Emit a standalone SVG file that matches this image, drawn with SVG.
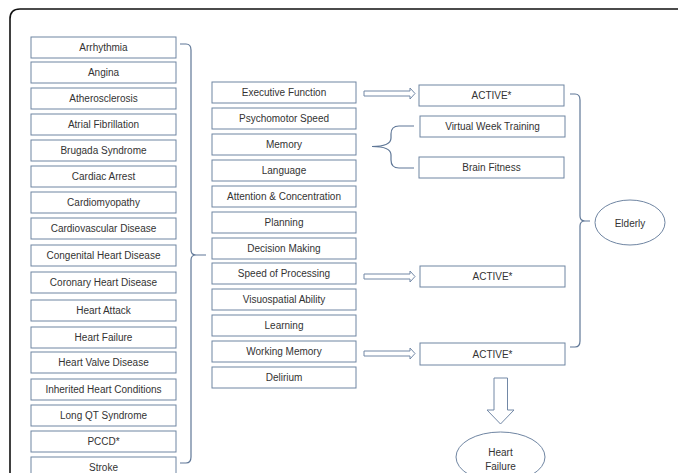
<svg xmlns="http://www.w3.org/2000/svg" width="678" height="473" viewBox="0 0 678 473">
<style>
.b{fill:#fff;stroke:#6f85a2;stroke-width:1}
.t{font-family:"Liberation Sans",Arial,sans-serif;font-size:10px;fill:#333;text-anchor:middle;dominant-baseline:central}
.c{fill:none;stroke:#5f7797;stroke-width:1.2}
.a{fill:#fff;stroke:#7288a6;stroke-width:1}
</style>
<rect x="0" y="0" width="678" height="473" fill="#fff"/>
<path d="M10,480 V19 Q10,9 20,9 H690" fill="none" stroke="#111" stroke-width="1.6"/>
<g id="left">
<g id="n1"><rect class="b" x="31" y="37" width="145" height="21"/><text class="t" x="103.5" y="47.5">Arrhythmia</text></g>
<g id="n2"><rect class="b" x="31" y="62" width="145" height="21"/><text class="t" x="103.5" y="72.5">Angina</text></g>
<g id="n3"><rect class="b" x="31" y="88" width="145" height="21"/><text class="t" x="103.5" y="98.5">Atherosclerosis</text></g>
<g id="n4"><rect class="b" x="31" y="114" width="145" height="21"/><text class="t" x="103.5" y="124.5">Atrial Fibrillation</text></g>
<g id="n5"><rect class="b" x="31" y="140" width="145" height="21"/><text class="t" x="103.5" y="150.5">Brugada Syndrome</text></g>
<g id="n6"><rect class="b" x="31" y="166" width="145" height="21"/><text class="t" x="103.5" y="176.5">Cardiac Arrest</text></g>
<g id="n7"><rect class="b" x="31" y="192" width="145" height="21"/><text class="t" x="103.5" y="202.5">Cardiomyopathy</text></g>
<g id="n8"><rect class="b" x="31" y="218" width="145" height="21"/><text class="t" x="103.5" y="228.5">Cardiovascular Disease</text></g>
<g id="n9"><rect class="b" x="31" y="245" width="145" height="21"/><text class="t" x="103.5" y="255.5">Congenital Heart Disease</text></g>
<g id="n10"><rect class="b" x="31" y="272" width="145" height="21"/><text class="t" x="103.5" y="282.5">Coronary Heart Disease</text></g>
<g id="n11"><rect class="b" x="31" y="300" width="145" height="21"/><text class="t" x="103.5" y="310.5">Heart Attack</text></g>
<g id="n12"><rect class="b" x="31" y="327" width="145" height="21"/><text class="t" x="103.5" y="337.5">Heart Failure</text></g>
<g id="n13"><rect class="b" x="31" y="352" width="145" height="21"/><text class="t" x="103.5" y="362.5">Heart Valve Disease</text></g>
<g id="n14"><rect class="b" x="31" y="379" width="145" height="21"/><text class="t" x="103.5" y="389.5">Inherited Heart Conditions</text></g>
<g id="n15"><rect class="b" x="31" y="405" width="145" height="21"/><text class="t" x="103.5" y="415.5">Long QT Syndrome</text></g>
<g id="n16"><rect class="b" x="31" y="431" width="145" height="21"/><text class="t" x="103.5" y="441.5">PCCD*</text></g>
<g id="n17"><rect class="b" x="31" y="457" width="145" height="21"/><text class="t" x="103.5" y="467">Stroke</text></g>
</g>
<g id="middle">
<g id="m1"><rect class="b" x="212" y="82" width="144" height="21"/><text class="t" x="284" y="92.5">Executive Function</text></g>
<g id="m2"><rect class="b" x="212" y="108" width="144" height="21"/><text class="t" x="284" y="118.5">Psychomotor Speed</text></g>
<g id="m3"><rect class="b" x="212" y="134" width="144" height="21"/><text class="t" x="284" y="144.5">Memory</text></g>
<g id="m4"><rect class="b" x="212" y="160" width="144" height="21"/><text class="t" x="284" y="170.5">Language</text></g>
<g id="m5"><rect class="b" x="212" y="186" width="144" height="21"/><text class="t" x="284" y="196.5">Attention &amp; Concentration</text></g>
<g id="m6"><rect class="b" x="212" y="212" width="144" height="21"/><text class="t" x="284" y="222.5">Planning</text></g>
<g id="m7"><rect class="b" x="212" y="238" width="144" height="21"/><text class="t" x="284" y="248.5">Decision Making</text></g>
<g id="m8"><rect class="b" x="212" y="263" width="144" height="21"/><text class="t" x="284" y="273.5">Speed of Processing</text></g>
<g id="m9"><rect class="b" x="212" y="289" width="144" height="21"/><text class="t" x="284" y="299.5">Visuospatial Ability</text></g>
<g id="m10"><rect class="b" x="212" y="315" width="144" height="21"/><text class="t" x="284" y="325.5">Learning</text></g>
<g id="m11"><rect class="b" x="212" y="341" width="144" height="21"/><text class="t" x="284" y="351.5">Working Memory</text></g>
<g id="m12"><rect class="b" x="212" y="367" width="144" height="21"/><text class="t" x="284" y="377.5">Delirium</text></g>
</g>
<g id="right">
<g id="r1"><rect class="b" x="419" y="85" width="145" height="21"/><text class="t" x="491.5" y="95.5">ACTIVE*</text></g>
<g id="r2"><rect class="b" x="420" y="116" width="145" height="21"/><text class="t" x="492.5" y="126.5">Virtual Week Training</text></g>
<g id="r3"><rect class="b" x="419" y="157" width="145" height="21"/><text class="t" x="491.5" y="167.5">Brain Fitness</text></g>
<g id="r4"><rect class="b" x="420" y="266" width="145" height="21"/><text class="t" x="492.5" y="276.5">ACTIVE*</text></g>
<g id="r5"><rect class="b" x="420" y="343" width="145" height="22"/><text class="t" x="492.5" y="354">ACTIVE*</text></g>
<g id="elderly"><ellipse cx="630" cy="222.5" rx="35" ry="22.5" fill="#fff" stroke="#6f85a2"/><text class="t" x="630" y="223">Elderly</text></g>
<g id="hf"><ellipse cx="500.5" cy="457" rx="44.5" ry="25" fill="#fff" stroke="#6f85a2"/><text class="t" x="500.5" y="452">Heart</text><text class="t" x="500.5" y="466">Failure</text></g>
</g>
<g id="connectors">
<path class="c" d="M180,44 H186 Q191,44 191,50 V250 Q191,255 196,255 H206 M196,255 Q191,255 191,260 V457 Q191,463 186,463 H180"/>
<path class="c" d="M570,94 H575 Q580,94 580,100 V216 Q580,221 585,221 H590 M585,221 Q580,221 580,226 V341 Q580,347 575,347 H570"/>
<path class="c" d="M372,146.5 Q391,146.5 391,138 V134 Q391,126 399,126 H414 M372,146.5 Q391,146.5 391,155 V160 Q391,168 399,168 H414"/>
<path class="a" d="M364,91 H410 V88 L415,93.5 L410,99 V96 H364 Z"/>
<path class="a" d="M364,274 H410 V271 L415,276.5 L410,282 V279 H364 Z"/>
<path class="a" d="M364,351 H410 V348 L415,353.5 L410,359 V356 H364 Z"/>
<path class="a" d="M494,378 H507.5 V410 H514 L500.5,424 L487,410 H494 Z"/>
</g>
</svg>
